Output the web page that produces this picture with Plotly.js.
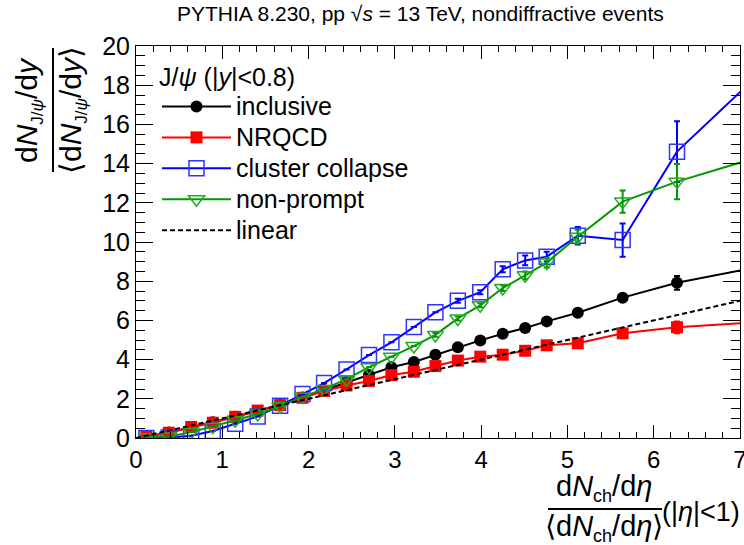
<!DOCTYPE html>
<html>
<head>
<meta charset="utf-8">
<script src="https://cdn.plot.ly/plotly-3.0.1.min.js"></script>
<style>html,body{margin:0;padding:0;background:#fff;}#chart{width:744px;height:545px;}</style>
</head>
<body>
<div id="chart"></div>
<script>
// multiplicity bins: dNch/deta / <dNch/deta>  (last entry lies beyond the frame; curves run out to the edge)
const xMult = [0.12,0.38,0.64,0.89,1.15,1.41,1.67,1.93,2.18,2.44,2.70,2.96,3.22,3.47,3.73,3.99,4.25,4.51,4.76,5.12,5.64,6.27,7.30];

const inclusive = [0.07,0.28,0.55,0.80,1.08,1.38,1.70,2.07,2.45,2.85,3.22,3.61,3.88,4.25,4.63,4.98,5.32,5.61,5.95,6.39,7.16,7.92,8.80];
const inclusiveErr = [0,0,0,0,0,0,0,0,0,0,0,0,0,0,0,0,0.05,0.05,0.08,0.1,0.15,0.35,0];

const nrqcd = [0.07,0.27,0.56,0.78,1.08,1.40,1.68,2.05,2.40,2.68,2.91,3.21,3.38,3.67,3.95,4.15,4.25,4.45,4.73,4.83,5.34,5.65,5.93];
const nrqcdErr = [0,0,0,0,0,0,0,0,0,0,0,0,0,0,0,0,0.05,0.05,0.08,0.1,0.15,0.3,0];

const clusterCollapse = [0.00,0.02,0.12,0.36,0.73,1.10,1.65,2.25,2.80,3.50,4.23,4.88,5.66,6.41,7.00,7.44,8.61,9.06,9.25,10.32,10.10,14.61,18.90];
const clusterErr = [0,0,0,0,0,0,0,0,0,0,0,0,0,0,0.1,0.1,0.15,0.25,0.25,0.45,0.85,1.55,0];

const nonPrompt = [0.04,0.08,0.30,0.58,0.91,1.22,1.62,2.10,2.50,3.00,3.61,4.15,4.69,5.26,6.10,6.77,7.65,8.30,8.95,10.27,12.06,13.08,14.45];
const nonPromptErr = [0,0,0,0,0,0,0,0,0,0,0,0,0,0.1,0.1,0.1,0.15,0.2,0.25,0.35,0.57,0.9,0];

const linearX = [0, 7];
const linearY = [0, 7];

const seriesNames = ["inclusive","NRQCD","cluster collapse","non-prompt","linear"];

const FONT = "Liberation Sans, Arial, Helvetica, sans-serif";
const big = s => "<span style='font-size:25px'>" + s + "</span>";

function errSpec(arr, color){
  return {type:'data', array:arr, visible:true, color:color, thickness:2, width:3};
}

const traces = [
  {x:xMult, y:inclusive, name:big(seriesNames[0]), mode:'lines+markers',
   line:{color:'#000000', width:2}, marker:{symbol:'circle', size:12, color:'#000000'},
   error_y:errSpec(inclusiveErr,'#000000')},
  {x:xMult, y:nrqcd, name:big(seriesNames[1]), mode:'lines+markers',
   line:{color:'#ff0000', width:2}, marker:{symbol:'square', size:12, color:'#ff0000'},
   error_y:errSpec(nrqcdErr,'#ff0000')},
  {x:xMult, y:clusterCollapse, name:big(seriesNames[2]), mode:'lines+markers',
   line:{color:'#0000ff', width:2}, marker:{symbol:'square-open', size:15, color:'#3333ff', line:{width:1.5}},
   error_y:errSpec(clusterErr,'#0000ff')},
  {x:xMult, y:nonPrompt, name:big(seriesNames[3]), mode:'lines+markers',
   line:{color:'#009900', width:2}, marker:{symbol:'triangle-down-open', size:14, color:'#22aa22', line:{width:1.5}},
   error_y:errSpec(nonPromptErr,'#009900')},
  {x:linearX, y:linearY, name:big(seriesNames[4]), mode:'lines',
   line:{color:'#000000', width:2, dash:'5px,3px'}}
];

// plot frame: left 136, right 740, top 46, bottom 438 (px)
const L=136, R=740, T=46, B=438;
const px = v => (v - L)/(R - L);
const py = v => (B - v)/(B - T);

const subJpsi = "<sub><span style='font-size:17px'>J/<i>ψ</i></span></sub>";
const subCh = "<sub><span style='font-size:18px'>ch</span></sub>";

const layout = {
  width:744, height:545,
  margin:{l:L, r:744-R, t:T, b:545-B, pad:0},
  paper_bgcolor:'#ffffff', plot_bgcolor:'#ffffff',
  font:{family:FONT, color:'#000000', size:24},
  showlegend:true,
  title:{text:"PYTHIA 8.230, pp √<i>s</i> = 13 TeV, nondiffractive events",
         font:{family:FONT, size:21, color:'#000'}, x:0.565, xanchor:'center', y:0.975, yanchor:'middle'},
  xaxis:{range:[0,7], dtick:1, tick0:0, ticks:'inside', ticklen:13, tickwidth:1, tickcolor:'#000',
         showline:true, linecolor:'#000', linewidth:1, mirror:'allticks', showgrid:false, zeroline:false,
         tickfont:{family:FONT, size:24}, ticklabeloverflow:'allow',
         minor:{dtick:0.2, ticks:'inside', ticklen:6, tickwidth:1, tickcolor:'#000', showgrid:false}},
  yaxis:{range:[0,20], dtick:2, tick0:0, ticks:'inside', ticklen:17, tickwidth:1, tickcolor:'#000',
         showline:true, linecolor:'#000', linewidth:1, mirror:'allticks', showgrid:false, zeroline:false,
         tickfont:{family:FONT, size:25}, ticklabeloverflow:'allow',
         minor:{dtick:0.5, ticks:'inside', ticklen:9, tickwidth:1, tickcolor:'#000', showgrid:false}},
  legend:{x:px(157), y:py(58), xanchor:'left', yanchor:'top', bgcolor:'rgba(255,255,255,0)',
          borderwidth:0, font:{family:FONT, size:21.5}, itemwidth:69, tracegroupgap:0,
          title:{text:big("J/<i>ψ</i> (|<i>y</i>|&lt;0.8)"), font:{family:FONT, size:21.5}}},
  annotations:[
    {xref:'paper', yref:'paper', x:px(29), y:py(110), text:"d<i>N</i>"+subJpsi+"/d<i>y</i>",
     textangle:-90, showarrow:false, xanchor:'center', yanchor:'middle', font:{family:FONT, size:30}},
    {xref:'paper', yref:'paper', x:px(73), y:py(110), text:"⟨d<i>N</i>"+subJpsi+"/d<i>y</i>⟩",
     textangle:-90, showarrow:false, xanchor:'center', yanchor:'middle', font:{family:FONT, size:30}},
    {xref:'paper', yref:'paper', x:px(604), y:py(488), text:"d<i>N</i>"+subCh+"/d<i>η</i>",
     showarrow:false, xanchor:'center', yanchor:'middle', font:{family:FONT, size:29}},
    {xref:'paper', yref:'paper', x:px(604), y:py(528), text:"⟨d<i>N</i>"+subCh+"/d<i>η</i>⟩",
     showarrow:false, xanchor:'center', yanchor:'middle', font:{family:FONT, size:29}},
    {xref:'paper', yref:'paper', x:px(660), y:py(512), text:"(|<i>η</i>|&lt;1)",
     showarrow:false, xanchor:'left', yanchor:'middle', font:{family:FONT, size:27}}
  ],
  shapes:[
    {type:'line', xref:'paper', yref:'paper', x0:px(53), x1:px(53), y0:py(48), y1:py(172), line:{color:'#000', width:2}},
    {type:'line', xref:'paper', yref:'paper', x0:px(548), x1:px(662), y0:py(509), y1:py(509), line:{color:'#000', width:2}}
  ]
};

Plotly.newPlot('chart', traces, layout, {displayModeBar:false, staticPlot:true});
</script>
</body>
</html>
